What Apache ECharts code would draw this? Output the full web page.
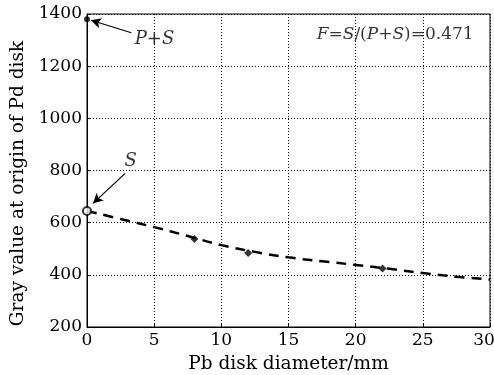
<!DOCTYPE html>
<html><head><meta charset="utf-8">
<script src="https://cdn.jsdelivr.net/npm/echarts@6/dist/echarts.min.js"></script>
<style>html,body{margin:0;padding:0;background:#fff}#c{width:494px;height:375px}</style>
</head><body><div id="c"></div>
<script>
// measured points
const psPoint = [[0, 1380]];
const sPoint = [[0, 645]];
const measX = [8, 12, 22];
const measY = [537, 484, 424];
// fitted dashed curve
const fitX = [0, 2.5, 5, 7.5, 10, 12.5, 15, 17.5, 20, 22.5, 25, 27.5, 30];
const fitY = [645, 614, 583, 549, 514, 488, 467, 452, 438, 423, 407, 393, 382];
const xTicks = [0, 5, 10, 15, 20, 25, 30];
const yTicks = [200, 400, 600, 800, 1000, 1200, 1400];

const FONT = 'DejaVu Serif';
const chart = echarts.init(document.getElementById('c'));
chart.setOption({
  animation: false,
  backgroundColor: '#fff',
  grid: {left: 87, right: 4, top: 14, bottom: 48, show: true, borderColor: '#000', borderWidth: 1,
         outerBoundsMode: 'none', containLabel: false},
  xAxis: {
    type: 'value', min: 0, max: 30, interval: 5,
    name: 'Pb disk diameter/mm', nameLocation: 'middle', nameGap: 28,
    nameTextStyle: {fontFamily: FONT, fontSize: 18.5, color: '#000'},
    axisLine: {lineStyle: {color: '#000'}},
    axisTick: {inside: true, length: 4, lineStyle: {color: '#000'}},
    axisLabel: {fontFamily: FONT, fontSize: 17, color: '#000', margin: 5,
                formatter: v => v === xTicks[xTicks.length - 1] ? '{r|' + v + '}' : String(v),
                rich: {r: {fontFamily: FONT, fontSize: 17, color: '#000', padding: [0, 12, 0, 0]}}},
    splitLine: {show: true, lineStyle: {type: [1, 2], color: '#000', width: 1}}
  },
  yAxis: {
    type: 'value', min: 200, max: 1400, interval: 200,
    name: 'Gray value at origin of Pd disk', nameLocation: 'middle', nameGap: 57,
    nameTextStyle: {fontFamily: FONT, fontSize: 18.5, color: '#000', padding: [0, 26, 0, 0]},
    axisLine: {show: true, lineStyle: {color: '#000'}},
    axisTick: {show: true, inside: true, length: 4, lineStyle: {color: '#000'}},
    axisLabel: {fontFamily: FONT, fontSize: 17, color: '#000', margin: 5,
                formatter: v => String(v)},
    splitLine: {show: true, lineStyle: {type: [1, 2], color: '#000', width: 1}}
  },
  series: [
    {
      type: 'line', data: fitX.map((x, i) => [x, fitY[i]]), smooth: true, symbol: 'none',
      lineStyle: {color: '#000', width: 2.5, type: [10, 7]}, z: 3,
      markLine: {
        silent: true, symbol: ['none', 'arrow'], symbolSize: [8, 10],
        lineStyle: {color: '#000', width: 1.2, type: 'solid'}, label: {show: false},
        data: [
          [{coord: [3.3, 1328]}, {coord: [0.3, 1376]}],
          [{coord: [2.84, 789]}, {coord: [0.45, 674]}]
        ]
      }
    },
    {
      type: 'scatter', data: measX.map((x, i) => [x, measY[i]]), symbol: 'diamond', symbolSize: 8,
      itemStyle: {color: '#000'}, z: 4
    },
    {
      type: 'scatter', data: psPoint, symbol: 'circle', symbolSize: 6, itemStyle: {color: '#000'}, z: 4
    },
    {
      type: 'scatter', data: sPoint, symbol: 'circle', symbolSize: 8,
      itemStyle: {color: '#fff', borderColor: '#000', borderWidth: 2}, z: 4
    },
    {
      type: 'scatter', symbolSize: 0, z: 5, silent: true,
      data: [
        {value: [3.55, 1303], label: {show: true, position: 'right', distance: 0, formatter: 'P+S',
          fontFamily: FONT, fontStyle: 'italic', fontSize: 18, color: '#000'}},
        {value: [2.8, 834], label: {show: true, position: 'right', distance: 0, formatter: 'S',
          fontFamily: FONT, fontStyle: 'italic', fontSize: 18, color: '#000'}},
        {value: [17.1, 1320], label: {show: true, position: 'right', distance: 0,
          formatter: '{i|F}{n|=}{i|S}{n|/(}{i|P}{n|+}{i|S}{n|)=0.471}',
          rich: {
            i: {fontFamily: FONT, fontStyle: 'italic', fontSize: 17, color: '#000'},
            n: {fontFamily: FONT, fontSize: 17, color: '#000'}
          }}}
      ]
    }
  ]
});
</script></body></html>
